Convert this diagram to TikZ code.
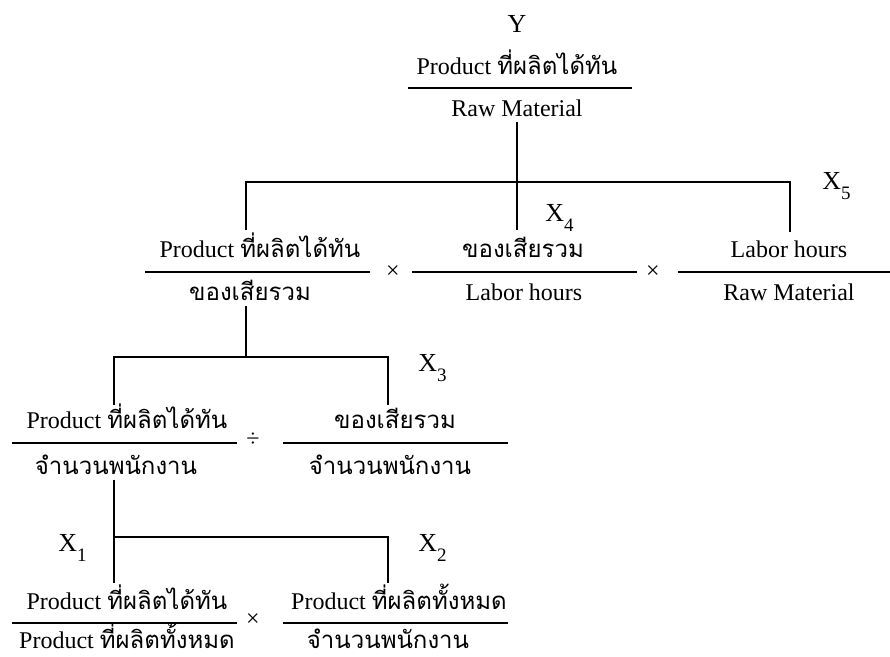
\documentclass[tikz,border=0pt]{standalone}
\usepackage{fontspec}
\setmainfont{Liberation Serif}
\newfontfamily\thaifont[Script=Thai]{Loma}
\newcommand{\thai}[1]{{\thaifont #1}}
\newcommand{\lowidx}[1]{\raisebox{-5pt}{\fontsize{9.5}{10}\selectfont #1}}

\begin{document}
\begin{tikzpicture}[
        x=0.5pt, y=-0.5pt,
        term/.style={anchor=base, inner sep=2pt, font=\fontsize{12}{14}\selectfont},
        var/.style={anchor=base west, inner sep=0pt, font=\fontsize{13}{15}\selectfont},
        oper/.style={inner sep=0pt, font=\fontsize{12}{14}\selectfont},
        bar/.style={line width=1pt},
        link/.style={line width=1pt}
    ]
    \useasboundingbox (0,0) rectangle (890,657);

    % Y = product / raw material
    \node[var, anchor=base] (yv) at (517,33) {Y};
    \node[term] (fyn) at (517,75) {Product \thai{ที่ผลิตได้ทัน}};
    \draw[bar] (408,88) -- (632,88);
    \node[term] (fyd) at (517,117) {Raw Material};

    % second row: three factors
    \node[term] (fan) at (260,258) {Product \thai{ที่ผลิตได้ทัน}};
    \draw[bar] (145,272) -- (370,272);
    \node[term] (fad) at (250,301) {\thai{ของเสียรวม}};
    \node[oper] (ma) at (393,272) {×};
    \node[term] (fbn) at (523,258) {\thai{ของเสียรวม}};
    \draw[bar] (412,272) -- (637,272);
    \node[term] (fbd) at (524,301) {Labor hours};
    \node[oper] (mb) at (653,272) {×};
    \node[term] (fcn) at (789,258) {Labor hours};
    \draw[bar] (678,272) -- (890,272);
    \node[term] (fcd) at (789,301) {Raw Material};

    % third row
    \node[term] (fdn) at (127,429) {Product \thai{ที่ผลิตได้ทัน}};
    \draw[bar] (12,443) -- (237,443);
    \node[term] (fdd) at (116,475) {\thai{จำนวนพนักงาน}};
    \node[oper] (md) at (253,440) {÷};
    \node[term] (fen) at (395,429) {\thai{ของเสียรวม}};
    \draw[bar] (283,443) -- (508,443);
    \node[term] (fed) at (390,475) {\thai{จำนวนพนักงาน}};

    % fourth row
    \node[term] (ffn) at (127,610) {Product \thai{ที่ผลิตได้ทัน}};
    \draw[bar] (12,623) -- (237,623);
    \node[term] (ffd) at (127,649) {Product \thai{ที่ผลิตทั้งหมด}};
    \node[oper] (mf) at (253,620) {×};
    \node[term] (fgn) at (399,610) {Product \thai{ที่ผลิตทั้งหมด}};
    \draw[bar] (283,623) -- (508,623);
    \node[term] (fgd) at (388,649) {\thai{จำนวนพนักงาน}};

    % variable labels
    \node[var] (x1) at (58,552) {X\lowidx{1}};
    \node[var] (x2) at (418,552) {X\lowidx{2}};
    \node[var] (x3) at (418,372) {X\lowidx{3}};
    \node[var] (x4) at (545,222) {X\lowidx{4}};
    \node[var] (x5) at (822,190) {X\lowidx{5}};

    % branch points and line ends
    \coordinate (jy) at (517,182);
    \coordinate (ea) at (246,230);
    \coordinate (eb) at (517,230);
    \coordinate (ec) at (790,232);
    \coordinate (ja) at (246,357);
    \coordinate (ed) at (114,405);
    \coordinate (ee) at (388,405);
    \coordinate (jd) at (114,537);
    \coordinate (ef) at (114,583);
    \coordinate (eg) at (388,583);

    % tree lines
    \draw[link] (fyd.south) -- (eb);
    \draw[link] (ea) -- (ea |- jy) -- (ec |- jy) -- (ec);
    \draw[link] (fad.south -| ja) -- (ja);
    \draw[link] (ed) -- (ed |- ja) -- (ee |- ja) -- (ee);
    \draw[link] (fdd.south -| ef) -- (ef);
    \draw[link] (jd) -- (eg |- jd) -- (eg);

\end{tikzpicture}
\end{document}
